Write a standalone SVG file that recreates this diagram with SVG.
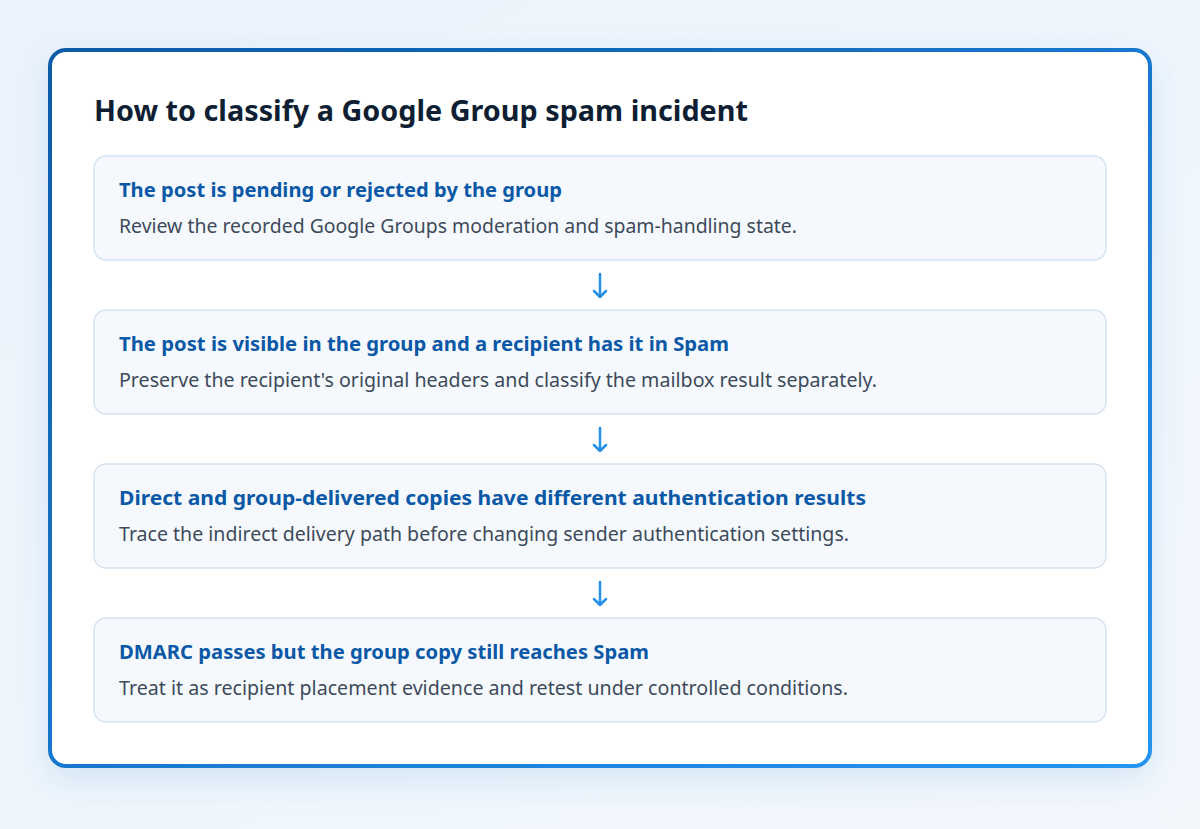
<svg xmlns="http://www.w3.org/2000/svg" width="1200" height="829" viewBox="0 0 1200 829">
<defs>
<linearGradient id="bg" x1="0" y1="0" x2="1" y2="1">
<stop offset="0" stop-color="#eaf3fc"/>
<stop offset="1" stop-color="#f3f8fd"/>
</linearGradient>
<linearGradient id="border" x1="0" y1="0" x2="1" y2="1">
<stop offset="0" stop-color="#0a5aa8"/>
<stop offset="1" stop-color="#2594f0"/>
</linearGradient>
<filter id="shadow" x="-10%" y="-10%" width="120%" height="125%">
<feDropShadow dx="0" dy="12" stdDeviation="16" flood-color="#1e64b4" flood-opacity="0.12"/>
</filter>
</defs>
<style>
.title{font-family:"Source Sans Pro","Noto Sans","Open Sans",sans-serif;font-weight:700;font-size:28.8px;fill:#0f1f33}
.nodebox{fill:#f5f9fd;stroke:#d2e2f2;stroke-width:1.3}
.head{font-family:"Source Sans Pro","Noto Sans","Open Sans",sans-serif;font-weight:700;font-size:20.4px;fill:#0b58a6}
.desc{font-family:"Source Sans Pro","Noto Sans","Open Sans",sans-serif;font-size:19.5px;fill:#3d4a5a}
.arrow{stroke:#2590ea;stroke-width:2.5;fill:none;stroke-linecap:round;stroke-linejoin:round}
</style>
<rect width="1200" height="829" fill="url(#bg)"/>
<g id="card">
<rect x="50" y="50" width="1100" height="716" rx="16" fill="#ffffff" stroke="url(#border)" stroke-width="4" filter="url(#shadow)"/>
<text class="title" x="94" y="121" textLength="654" lengthAdjust="spacingAndGlyphs">How to classify a Google Group spam incident</text>
</g>
<g id="node1">
<rect class="nodebox" x="94" y="156" width="1012" height="104" rx="12"/>
<text class="head" x="119" y="197" textLength="443" lengthAdjust="spacingAndGlyphs">The post is pending or rejected by the group</text>
<text class="desc" x="119" y="233" textLength="678" lengthAdjust="spacingAndGlyphs">Review the recorded Google Groups moderation and spam-handling state.</text>
</g>
<g id="node2">
<rect class="nodebox" x="94" y="310" width="1012" height="104" rx="12"/>
<text class="head" x="119" y="351" textLength="610" lengthAdjust="spacingAndGlyphs">The post is visible in the group and a recipient has it in Spam</text>
<text class="desc" x="119" y="387" textLength="758" lengthAdjust="spacingAndGlyphs">Preserve the recipient's original headers and classify the mailbox result separately.</text>
</g>
<g id="node3">
<rect class="nodebox" x="94" y="464" width="1012" height="104" rx="12"/>
<text class="head" x="119" y="505" textLength="747" lengthAdjust="spacingAndGlyphs">Direct and group-delivered copies have different authentication results</text>
<text class="desc" x="119" y="541" textLength="730" lengthAdjust="spacingAndGlyphs">Trace the indirect delivery path before changing sender authentication settings.</text>
</g>
<g id="node4">
<rect class="nodebox" x="94" y="618" width="1012" height="104" rx="12"/>
<text class="head" x="119" y="659" textLength="530" lengthAdjust="spacingAndGlyphs">DMARC passes but the group copy still reaches Spam</text>
<text class="desc" x="119" y="695" textLength="729" lengthAdjust="spacingAndGlyphs">Treat it as recipient placement evidence and retest under controlled conditions.</text>
</g>
<g id="connectors">
<path class="arrow" d="M600 274 V297 M594 291 L600 297 L606 291"/>
<path class="arrow" d="M600 428 V451 M594 445 L600 451 L606 445"/>
<path class="arrow" d="M600 582 V605 M594 599 L600 605 L606 599"/>
</g>
</svg>
